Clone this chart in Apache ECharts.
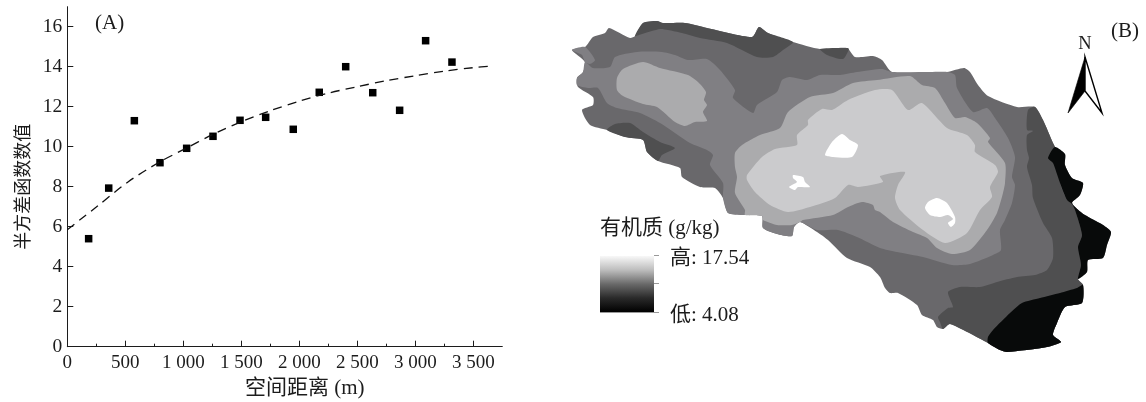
<!DOCTYPE html>
<html><head><meta charset="utf-8">
<style>html,body{margin:0;padding:0;background:#fff}#c{width:1146px;height:402px}</style>
<script src="https://cdn.jsdelivr.net/npm/echarts@6/dist/echarts.min.js"></script>
</head><body><div id="c"></div>
<script>
// Panel A: semivariogram
const lagDistance = [184,357,578,799,1029,1256,1489,1710,1948,2172,2400,2633,2865,3089,3316];
const semivariance = [5.4,7.93,11.3,9.2,9.92,10.52,11.32,11.47,10.87,12.72,14.0,12.7,11.82,15.3,14.23];
const fitDistance = [0,126,250,526,800,1000,1250,1500,1750,2000,2250,2500,2750,3000,3250,3500,3658];
const fitValue = [5.85,6.42,6.98,8.25,9.25,9.85,10.6,11.25,11.8,12.28,12.68,13.0,13.3,13.55,13.78,13.95,14.03];
const xTicks = [0,500,1000,1500,2000,2500,3000,3500];
const yTicks = [0,2,4,6,8,10,12,14,16];

// Panel B: organic matter zones, as map coordinates
const zoneOutline = [572,50,585,47,593,37,605,33,609,28,630,38,635,36,643,23,657,21,663,23,685,23,707,28,752,37,759,27,768,33,793,42,820,49,847,48,855,57,873,56,882,60,892,72,930,72,947,72,964,68,970,72,978,85,988,96,1017,107,1035,107,1043,120,1053,143,1055,147,1065,154,1065,165,1072,178,1083,183,1080,195,1072,203,1082,213,1092,219,1103,225,1111,232,1107,245,1103,258,1088,260,1087,272,1078,279,1083,285,1082,303,1065,307,1057,323,1053,335,1061,342,1047,347,1007,352,1000,350,988,343,950,324,943,329,937,327,933,320,922,315,917,305,898,293,890,293,885,288,880,277,870,267,847,258,828,240,817,232,800,222,794,227,792,236,777,234,763,228,762,216,743,215,728,213,723,198,715,188,700,187,682,177,680,168,658,161,647,152,643,140,625,137,607,130,590,125,582,110,593,105,593,97,578,87,577,78,583,72,585,62];
const zoneDarkNorth = [635,36,643,23,657,21,663,23,685,23,707,28,752,37,759,27,768,33,793,42,783,50,773,57,757,57,727,43,700,38,682,33,668,30,660,29,642,34];
const zoneDarkNorthSmall = [820,49,847,48,849,49,843,59,827,55];
const zoneDarkSouthWest = [607,130,615,124,630,123,643,132,660,142,675,148,662,155,658,161,647,152,643,140,625,137];
const zoneDarkEast = [1035,107,1028,110,1027,130,1033,131,1027,135,1027,150,1029,158,1027,167,1032,185,1033,198,1043,223,1052,238,1053,258,1047,270,1035,275,1017,277,997,282,980,287,960,287,948,292,953,307,948,308,938,317,940,322,943,329,950,324,988,343,1000,350,1007,352,1047,347,1061,342,1053,335,1057,323,1065,307,1082,303,1083,285,1078,279,1081,265,1078,247,1082,235,1075,210,1072,203,1067,200,1060,183,1055,147,1053,143,1043,120];
const zoneBlackEast = [1055,147,1048,158,1053,163,1060,183,1067,200,1072,204,1075,210,1082,235,1078,247,1081,265,1078,279,1087,272,1088,260,1103,258,1107,245,1111,232,1103,225,1092,219,1082,213,1072,203,1080,195,1083,183,1072,178,1065,165,1065,154];
const zoneBlackSouth = [1083,285,1077,288,1060,293,1040,298,1022,303,1010,313,993,330,988,337,988,343,1000,350,1007,352,1047,347,1061,342,1053,335,1057,323,1065,307,1082,303];
const zoneMid = [577,85,577,78,583,72,585,62,593,68,610,67,615,57,637,52,662,52,675,55,688,60,707,59,720,70,735,90,733,98,753,113,757,105,777,92,782,80,790,77,807,80,820,75,840,75,857,72,882,69,892,72,930,72,947,72,955,75,957,88,973,112,987,108,995,118,1008,138,1015,157,1012,177,1015,185,1012,203,1005,220,1000,230,1001,250,993,255,970,264,952,265,923,257,897,252,880,248,857,237,838,230,817,230,800,222,794,227,792,236,777,234,763,228,762,216,743,215,728,213,723,198,723,183,710,165,713,155,707,150,690,143,660,123,640,113,617,108,607,103,598,88,588,88];
const zoneMidTip = [572,50,585,47,595,60,590,64,585,62,582,55];
const zoneLightMidWest = [617,78,623,69,643,62,660,68,688,75,698,82,706,92,704,100,707,105,703,112,707,121,695,122,685,126,675,122,657,107,643,104,623,96,617,90];
const zoneLightMidCentre = [735,153,742,145,760,135,780,128,788,112,810,97,833,93,853,83,877,80,910,76,922,85,935,88,945,103,955,118,965,117,977,123,990,138,988,142,1005,163,1005,183,1003,193,997,213,987,230,970,250,952,254,937,248,927,238,913,232,893,222,880,212,875,210,873,205,862,202,848,207,833,215,803,220,800,222,792,225,777,225,763,220,762,216,745,215,745,210,735,193,737,177,735,167];
const zoneLight = [747,175,762,157,775,149,797,145,797,135,808,125,808,120,822,109,832,110,848,100,875,90,892,90,908,110,922,103,947,128,967,135,975,145,975,152,995,165,998,172,990,187,992,197,980,210,967,233,945,243,923,230,900,210,895,198,898,185,905,172,880,176,883,182,858,187,848,185,835,198,810,207,788,212,770,205,755,192,747,180];
const zoneWhiteA = [825,155,832,142,842,134,850,140,858,145,852,157,833,157];
const zoneWhiteB = [793,175,803,177,805,182,810,187,798,187,795,190,789,187,797,182,793,178];
const zoneWhiteC = [925,208,928,202,937,198,947,203,955,217,955,223,951,227,948,223,953,219,948,215,940,217,930,215];
const arrowLeft = [1085,57,1068,113,1085,91];
const arrowRight = [1085,57,1102,113,1085,91];

const colorBase='#69686b',colorDark='#4f4f50',colorBlack='#080a0a',colorMid='#807f83',colorLightMid='#ababad',colorLight='#cbcbcd',colorWhite='#ffffff';
const layers = [
 [zoneOutline,colorBase],[zoneDarkNorth,colorDark],[zoneDarkNorthSmall,colorDark],[zoneDarkSouthWest,colorDark],
 [zoneDarkEast,colorDark],[zoneBlackEast,colorBlack],[zoneBlackSouth,colorBlack],[zoneMid,colorMid],[zoneMidTip,colorMid],
 [zoneLightMidWest,colorLightMid],[zoneLightMidCentre,colorLightMid],[zoneLight,colorLight],
 [zoneWhiteA,colorWhite],[zoneWhiteB,colorWhite],[zoneWhiteC,colorWhite]
];
const pairs = f => { const o=[]; for(let i=0;i<f.length;i+=2)o.push([f[i],f[i+1]]); return o; };
const fontFam = '"Liberation Serif","Noto Sans CJK SC",serif';
const ink = '#1c1c1c';
const label = (x,y,text,size,extra) => ({type:'text',x,y,silent:true,style:Object.assign({text,fill:ink,font:size+'px '+fontFam,textVerticalAlign:'middle'},extra||{})});

const chart = echarts.init(document.getElementById('c'),null,{renderer:'canvas'});
chart.setOption({
 animation:false,
 backgroundColor:'#fff',
 grid:[
  {left:67.3,top:6.7,width:435,height:340,containLabel:false,outerBoundsMode:'none'},
  {left:0,top:0,width:1146,height:402,outerBoundsMode:'none'}
 ],
 xAxis:[
  {type:'value',gridIndex:0,min:0,max:3750,interval:500,
   axisLine:{show:true,onZero:false,lineStyle:{color:ink,width:1}},
   axisTick:{show:true,inside:true,length:6,customValues:xTicks,lineStyle:{color:ink,width:1}},
   minorTick:{show:true,splitNumber:2,length:3,lineStyle:{color:ink,width:1}},splitLine:{show:false},minorSplitLine:{show:false},
   axisLabel:{fontFamily:fontFam,fontSize:19,color:ink,margin:7,customValues:xTicks,
     formatter:v=>String(v).replace(/(\d)(\d{3})$/,'$1 $2')},
   name:'空间距离 (m)',nameLocation:'middle',nameGap:30,
   nameTextStyle:{fontFamily:fontFam,fontSize:21,color:ink,padding:[0,0,0,40]}},
  {type:'value',gridIndex:1,min:0,max:1146,show:false}
 ],
 yAxis:[
  {type:'value',gridIndex:0,min:0,max:17,
   axisLine:{show:true,onZero:false,lineStyle:{color:ink,width:1}},
   axisTick:{show:true,inside:true,length:6,customValues:yTicks,lineStyle:{color:ink,width:1}},
   splitLine:{show:false},
   axisLabel:{fontFamily:fontFam,fontSize:19.5,color:ink,margin:5,customValues:yTicks},
   name:'半方差函数数值',nameLocation:'middle',nameGap:34,nameRotate:90,
   nameTextStyle:{fontFamily:fontFam,fontSize:18,color:ink,padding:[0,0,0,-20]}},
  {type:'value',gridIndex:1,min:0,max:402,inverse:true,show:false}
 ],
 series:[
  {type:'line',xAxisIndex:0,yAxisIndex:0,data:fitDistance.map((d,i)=>[d,fitValue[i]]),smooth:0.3,symbol:'none',
   lineStyle:{color:'#111',width:1.3,type:[9,6]},silent:true},
  {type:'scatter',xAxisIndex:0,yAxisIndex:0,data:lagDistance.map((d,i)=>[d,semivariance[i]]),symbol:'rect',symbolSize:7.5,
   itemStyle:{color:'#000',opacity:1},silent:true},
  {type:'custom',xAxisIndex:1,yAxisIndex:1,coordinateSystem:'cartesian2d',silent:true,clip:false,
   data:layers.map((l,i)=>[i]),
   renderItem:(p,api)=>{
     const l=layers[api.value(0)];
     return {type:'polygon',shape:{points:pairs(l[0]).map(q=>api.coord(q)),smooth:0.22},style:{fill:l[1]}};
   }},
  {type:'custom',xAxisIndex:1,yAxisIndex:1,coordinateSystem:'cartesian2d',silent:true,clip:false,
   data:[[0],[1]],
   renderItem:(p,api)=>{
     const k=api.value(0);
     return {type:'polygon',shape:{points:pairs(k?arrowRight:arrowLeft).map(q=>api.coord(q))},
       style:k?{fill:'#fff',stroke:'#000',lineWidth:1.4,lineJoin:'miter'}:{fill:'#000',stroke:'#000',lineWidth:0.6}};
   }}
 ],
 graphic:[
  label(95,23,'(A)',21),
  label(1111,31,'(B)',21),
  label(1085,44,'N',18.5,{textAlign:'center'}),
  label(600,228,'有机质 (g/kg)',21),
  label(670,258,'高: 17.54',21),
  label(670,315,'低: 4.08',21),
  {type:'rect',silent:true,shape:{x:600,y:256,width:54,height:56},
   style:{fill:new echarts.graphic.LinearGradient(0,0,0,1,[
     {offset:0,color:'#f8f8f8'},{offset:.25,color:'#bdbdbd'},{offset:.5,color:'#6a6a6a'},{offset:.75,color:'#2a2a2a'},{offset:1,color:'#000'}])}},
  {type:'line',silent:true,shape:{x1:654,y1:255.5,x2:659,y2:255.5},style:{stroke:'#999',lineWidth:1}},
  {type:'line',silent:true,shape:{x1:654,y1:283.5,x2:659,y2:283.5},style:{stroke:'#999',lineWidth:1}},
  {type:'line',silent:true,shape:{x1:600,y1:312.5,x2:659,y2:312.5},style:{stroke:'#999',lineWidth:1}}
 ]
});
</script></body></html>
